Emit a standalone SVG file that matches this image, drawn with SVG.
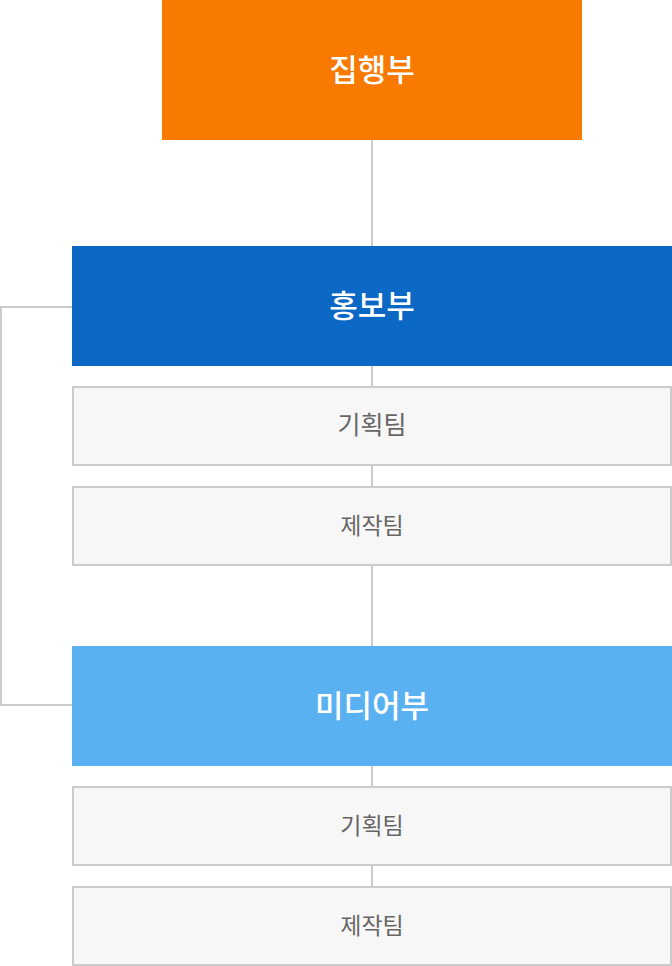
<svg xmlns="http://www.w3.org/2000/svg" width="672" height="966" viewBox="0 0 672 966">
<style>
.l{stroke:#cccccc;stroke-width:2;fill:none}
.t{fill:#f7f7f7;stroke:#cccccc;stroke-width:2}
.h{font-family:"Noto Sans CJK KR",sans-serif;font-size:31px;fill:#fff;text-anchor:middle;font-weight:500}
.s{font-family:"Noto Sans CJK KR",sans-serif;font-size:23px;fill:#666;text-anchor:middle}
</style>
<g id="connectors">
<path class="l" d="M372 140V246M372 366V387M372 465V487M372 565V646M372 766V787M372 865V887"/>
<path class="l" d="M72 307H1V705H72"/>
</g>
<g id="n1"><rect x="162" y="0" width="420" height="140" fill="#f97a00"/><text class="h" x="372" y="81">집행부</text></g>
<g id="n2"><rect x="72" y="246" width="600" height="120" fill="#0b68c4"/><text class="h" x="372" y="317">홍보부</text></g>
<g id="n3"><rect class="t" x="73" y="387" width="598" height="78"/><text class="s" x="372" y="434" style="font-size:25px">기획팀</text></g>
<g id="n4"><rect class="t" x="73" y="487" width="598" height="78"/><text class="s" x="372" y="534">제작팀</text></g>
<g id="n5"><rect x="72" y="646" width="600" height="120" fill="#5ab1f2"/><text class="h" x="372" y="717">미디어부</text></g>
<g id="n6"><rect class="t" x="73" y="787" width="598" height="78"/><text class="s" x="372" y="834">기획팀</text></g>
<g id="n7"><rect class="t" x="73" y="887" width="598" height="78"/><text class="s" x="372" y="934">제작팀</text></g>
</svg>
